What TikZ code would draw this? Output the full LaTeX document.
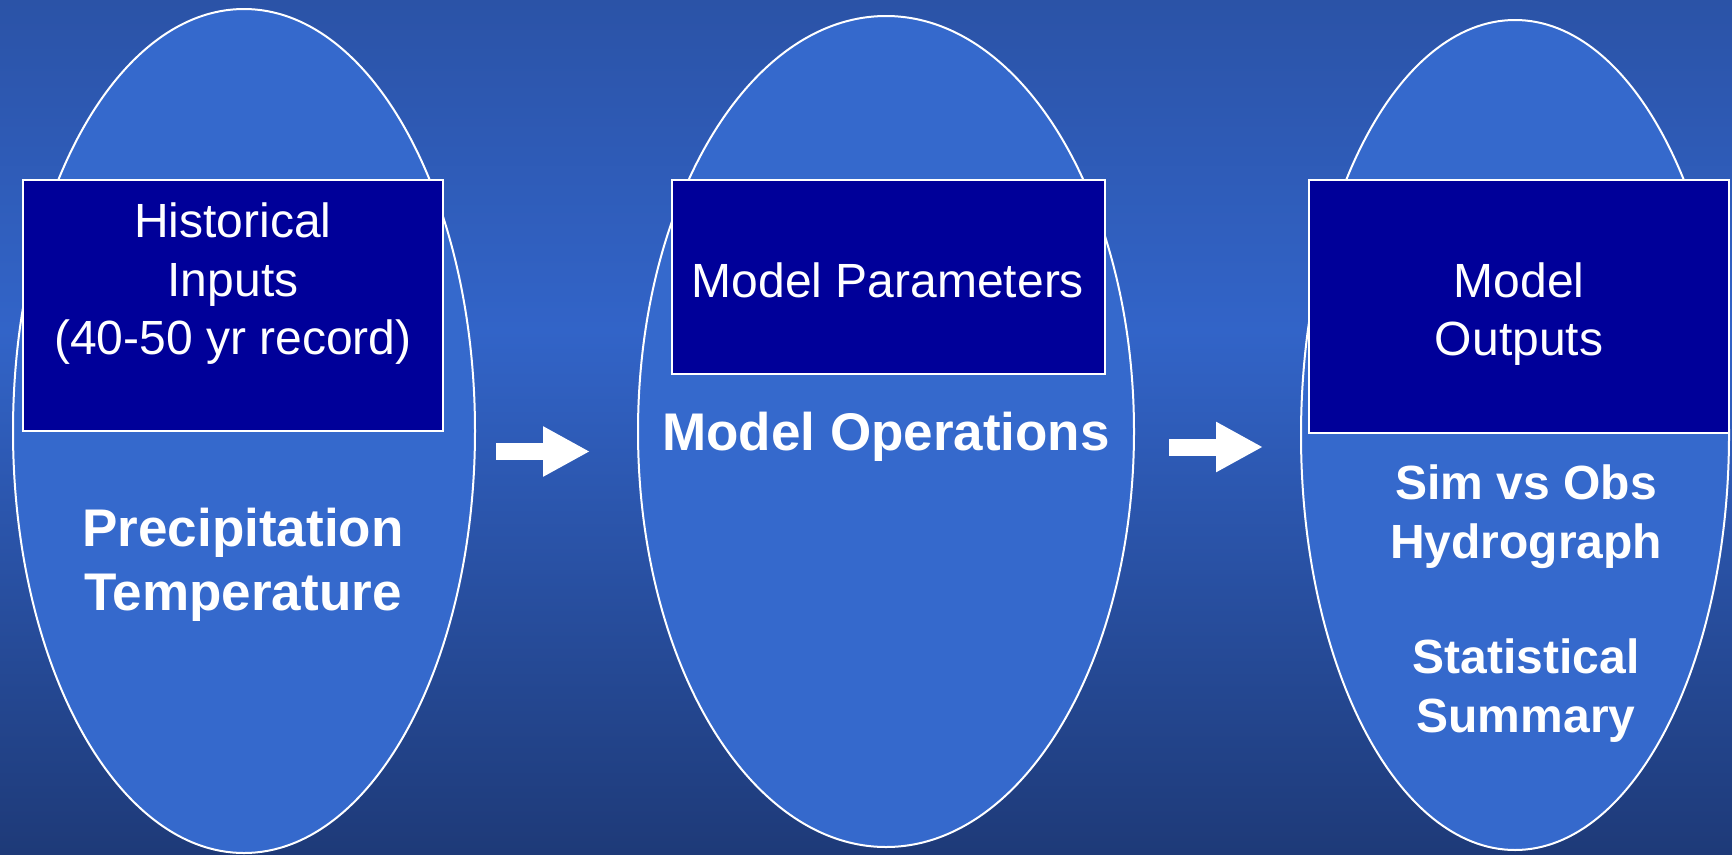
\documentclass[tikz,border=0pt]{standalone}
\usepackage{fontspec}
\setmainfont{Liberation Sans}
\usetikzlibrary{shapes.geometric,arrows.meta}
\definecolor{bgtop}{RGB}{43,83,167}
\definecolor{bgmid}{RGB}{50,100,200}
\definecolor{bgbot}{RGB}{30,58,120}
\definecolor{ellfill}{RGB}{53,105,204}
\definecolor{boxfill}{RGB}{0,0,153}
\begin{document}
\begin{tikzpicture}[x=1pt,y=-1pt,
  oval/.style={ellipse,draw=white,line width=2pt,fill=ellfill,inner sep=0pt},
  hbox/.style={rectangle,draw=white,line width=2pt,fill=boxfill,inner sep=0pt},
  reg/.style={text=white,align=center,inner sep=0pt,font=\fontsize{48}{58.5}\selectfont},
  bld/.style={text=white,align=center,inner sep=0pt,font=\fontsize{53}{64}\selectfont\bfseries},
  bldsm/.style={text=white,align=center,inner sep=0pt,font=\fontsize{48}{59}\selectfont\bfseries},
  blockarrow/.style={white,line width=17pt,line cap=butt,-{Triangle[length=47pt,width=47pt]}}
]
\useasboundingbox (0,0) rectangle (1732,854);
\fill[top color=bgtop,bottom color=bgmid] (0,0) rectangle (1732,331);
\fill[top color=bgmid,bottom color=bgbot] (0,330) rectangle (1732,854);

% ellipses
\node[oval,minimum width=462pt,minimum height=844pt] (e1) at (244,431) {};
\node[oval,minimum width=496pt,minimum height=831pt] (e2) at (886,431.5) {};
\node[oval,minimum width=428pt,minimum height=830pt] (e3) at (1515,435) {};

% header boxes
\node[hbox,minimum width=420pt,minimum height=251pt] (b1) at (233,305.5) {};
\node[hbox,minimum width=433pt,minimum height=194pt] (b2) at (888.5,277) {};
\node[hbox,minimum width=420pt,minimum height=253pt] (b3) at (1519,306.5) {};

% box texts
\node[reg] (t1) at (233,284) {Historical\\Inputs\\(40-50 yr record)};
\node[reg] (t2) at (888,280) {Model Parameters};
\node[reg] (t3) at (1519,314) {Model\\Outputs};

% body texts
\node[bld] (p1) at (243,565) {Precipitation\\Temperature};
\node[bld] (m2) at (886,437) {Model Operations};
\node[bldsm] (s3) at (1526,517) {Sim vs Obs\\Hydrograph};
\node[bldsm] (s4) at (1526,691) {Statistical\\Summary};

% arrows
\coordinate (a1s) at (496,451.5);
\coordinate (a1e) at (590,451.5);
\coordinate (a2s) at (1169,447);
\coordinate (a2e) at (1263,447);
\draw[blockarrow] (a1s) -- (a1e);
\draw[blockarrow] (a2s) -- (a2e);
\end{tikzpicture}
\end{document}
